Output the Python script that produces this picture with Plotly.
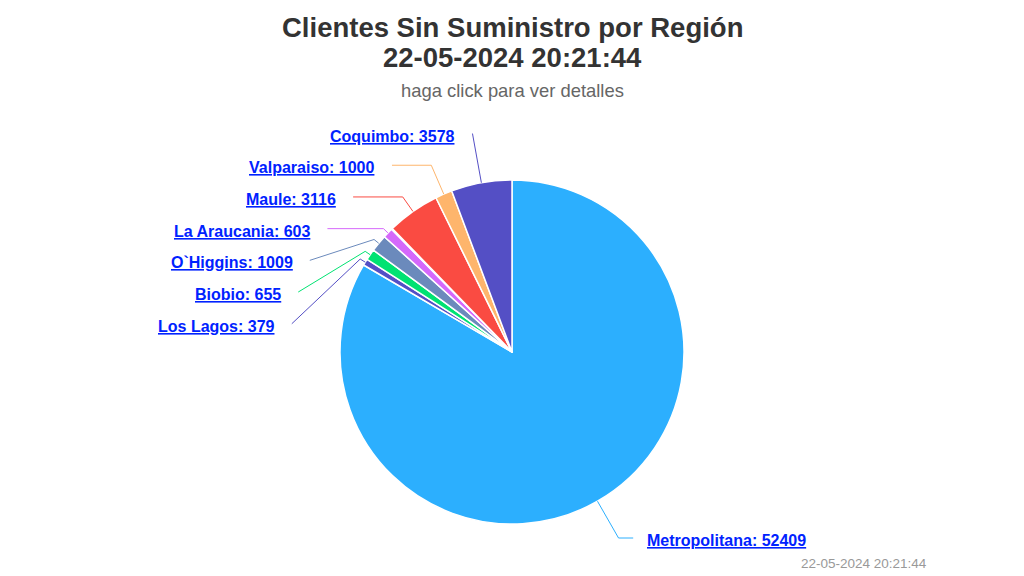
import math
import plotly.graph_objects as go

# ---------------- data ----------------
regions = ["Metropolitana", "Los Lagos", "Biobio", "O`Higgins", "La Araucania",
           " ", "Maule", "Valparaiso", "Coquimbo"]
clients = [52409, 379, 655, 1009, 603, 60, 3116, 1000, 3578]
slice_colors = ["#2caffe", "#544fc5", "#00e272", "#6b8abc", "#d568fb",
                "#2ee0ca", "#fa4b42", "#feb56c", "#544fc5"]
show_label = [True, True, True, True, True, False, True, True, True]

title_line1 = "Clientes Sin Suministro por Región"
title_line2 = "22-05-2024 20:21:44"
subtitle = "haga click para ver detalles"
credits = "22-05-2024 20:21:44"

# ---------------- layout constants (pixels) ----------------
W, H = 1024, 576
CX, CY, R_PIE = 512, 352, 172
R_LABEL = 222
SPACING = 31.7
LABEL_Y_MAX = 538
FONT = "Liberation Sans, Arial, Helvetica, sans-serif"


def px(x):
    return x / W


def py(y):
    return 1 - y / H


fig = go.Figure()
fig.add_trace(go.Pie(
    labels=regions,
    values=clients,
    sort=False,
    direction="clockwise",
    rotation=0,
    marker=dict(colors=slice_colors, line=dict(color="#ffffff", width=1.5)),
    textinfo="none",
    hoverinfo="label+value",
    domain=dict(x=[px(CX - R_PIE), px(CX + R_PIE)],
                y=[py(CY + R_PIE), py(CY - R_PIE)]),
    showlegend=False,
))

# ---------------- label positions from data angles ----------------
total = sum(clients)
cum = 0
info = []
for name, v, c, s in zip(regions, clients, slice_colors, show_label):
    a0 = cum / total * 360
    cum += v
    a1 = cum / total * 360
    mid = math.radians((a0 + a1) / 2)
    info.append(dict(name=name, value=v, color=c, show=s, mid=mid,
                     left=math.sin(mid) < 0))

shown = [d for d in info if d["show"]]
for side in (True, False):
    group = [d for d in shown if d["left"] == side]
    for d in group:
        d["ny"] = min(CY - R_LABEL * math.cos(d["mid"]), LABEL_Y_MAX)
    group.sort(key=lambda d: d["ny"])
    prev = -1e9
    for d in group:
        d["y"] = max(d["ny"], prev + SPACING)
        prev = d["y"]

shapes = []
annotations = []
for d in shown:
    y = d["y"]
    dy = y - CY
    half = math.sqrt(max(R_LABEL ** 2 - dy ** 2, 0))
    sgn = -1 if d["left"] else 1
    xl = CX + sgn * half
    th = d["mid"]
    tx, ty = CX + R_PIE * math.sin(th), CY - R_PIE * math.cos(th)
    cth = math.cos(th)
    dist = (CY - y) / cth if abs(cth) > 1e-6 else -1
    if dist < R_PIE + 6:
        dist = R_PIE + 6
    bx, by = CX + dist * math.sin(th), CY - dist * math.cos(th)
    if abs(by - y) < 1.5:
        by = y
    path = f"M {px(xl)},{py(y)} L {px(bx)},{py(by)} L {px(tx)},{py(ty)}"
    shapes.append(dict(type="path", xref="paper", yref="paper", path=path,
                       line=dict(color=d["color"], width=1)))
    gap = 15 if d["left"] else 12
    annotations.append(dict(
        x=px(xl + sgn * gap), y=py(y + 2.5), xref="paper", yref="paper",
        xanchor="right" if d["left"] else "left", yanchor="middle",
        showarrow=False,
        text=f"<u>{d['name']}: {d['value']}</u>",
        font=dict(family=FONT, size=16, color="#0022ff", weight="bold"),
    ))

annotations += [
    dict(x=px(512), y=py(27), xref="paper", yref="paper", showarrow=False,
         xanchor="center", yanchor="middle", text=f"<b>{title_line1}</b>",
         font=dict(family=FONT, size=27.5, color="#333333")),
    dict(x=px(512), y=py(58), xref="paper", yref="paper", showarrow=False,
         xanchor="center", yanchor="middle", text=f"<b>{title_line2}</b>",
         font=dict(family=FONT, size=27.5, color="#333333")),
    dict(x=px(512), y=py(90), xref="paper", yref="paper", showarrow=False,
         xanchor="center", yanchor="middle", text=subtitle,
         font=dict(family=FONT, size=18.4, color="#666666")),
    dict(x=px(929), y=py(563), xref="paper", yref="paper", showarrow=False,
         xanchor="right", yanchor="middle", text=credits,
         font=dict(family=FONT, size=13.5, color="#999999")),
]

fig.update_layout(
    width=W, height=H,
    margin=dict(l=0, r=0, t=0, b=0),
    paper_bgcolor="#ffffff",
    plot_bgcolor="#ffffff",
    shapes=shapes,
    annotations=annotations,
    font=dict(family=FONT),
)

fig.write_html(
    "out.html",
    config={"displayModeBar": False},
    post_script="document.body.style.margin='0';document.body.style.overflow='hidden';",
)
